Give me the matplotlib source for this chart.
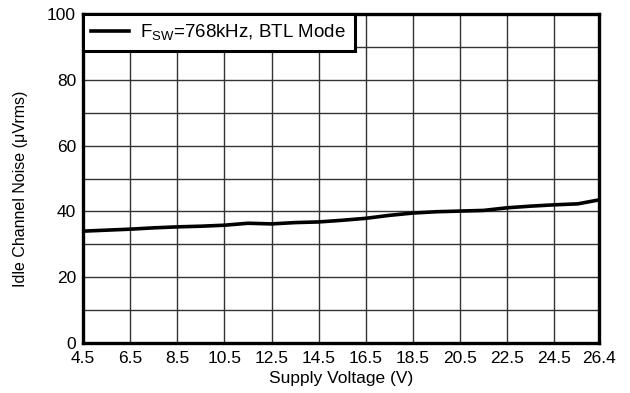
import matplotlib.pyplot as plt

plt.rcParams['font.family'] = ['Liberation Sans', 'DejaVu Sans']

# supply voltage (V) and idle channel noise (uVrms)
voltage = [4.5, 5.5, 6.5, 7.5, 8.5, 9.5, 10.5, 11.5, 12.5, 13.5, 14.5, 15.5,
           16.5, 17.5, 18.5, 19.5, 20.5, 21.5, 22.5, 23.5, 24.5, 25.5, 26.4]
noise = [34.0, 34.3, 34.6, 35.0, 35.3, 35.5, 35.8, 36.4, 36.2, 36.6, 36.8, 37.3,
         37.9, 38.8, 39.5, 39.9, 40.1, 40.3, 41.1, 41.6, 42.0, 42.3, 43.5]
xticks = [4.5, 6.5, 8.5, 10.5, 12.5, 14.5, 16.5, 18.5, 20.5, 22.5, 24.5, 26.4]

fig = plt.figure(figsize=(6.3, 3.93), dpi=100)
ax = fig.add_axes([0.1317, 0.1272, 0.8193, 0.8372])

ax.plot(voltage, noise, color='black', linewidth=2.6,
        label=r'F$_{\mathregular{SW}}$=768kHz, BTL Mode')

ax.set_xlim(4.5, 26.4)
ax.set_ylim(0, 100)
ax.set_xticks(xticks)
ax.set_xticklabels([f"{v}" for v in xticks])
ax.set_yticks(range(0, 101, 10))
ax.set_yticklabels([str(v) if v % 20 == 0 else '' for v in range(0, 101, 10)])
ax.tick_params(length=0, labelsize=12.5)
ax.tick_params(axis='x', pad=6)
ax.tick_params(axis='y', pad=5)
ax.grid(True, color='#333333', linewidth=1.0)
ax.set_axisbelow(True)

for s in ax.spines.values():
    s.set_linewidth(2.4)

ax.set_xlabel('Supply Voltage (V)', fontsize=12.5, labelpad=3)
ax.set_ylabel('Idle Channel Noise (\u03bcVrms)', fontsize=11.5)
ax.yaxis.set_label_coords(-0.106, 0.47)

leg = ax.legend(loc='upper left', borderaxespad=0, fancybox=False,
                framealpha=1, edgecolor='black', fontsize=13.5,
                handlelength=2.0, borderpad=0.45, handletextpad=0.6)
leg.get_frame().set_linewidth(2.2)

plt.savefig('out.png')
plt.close()
